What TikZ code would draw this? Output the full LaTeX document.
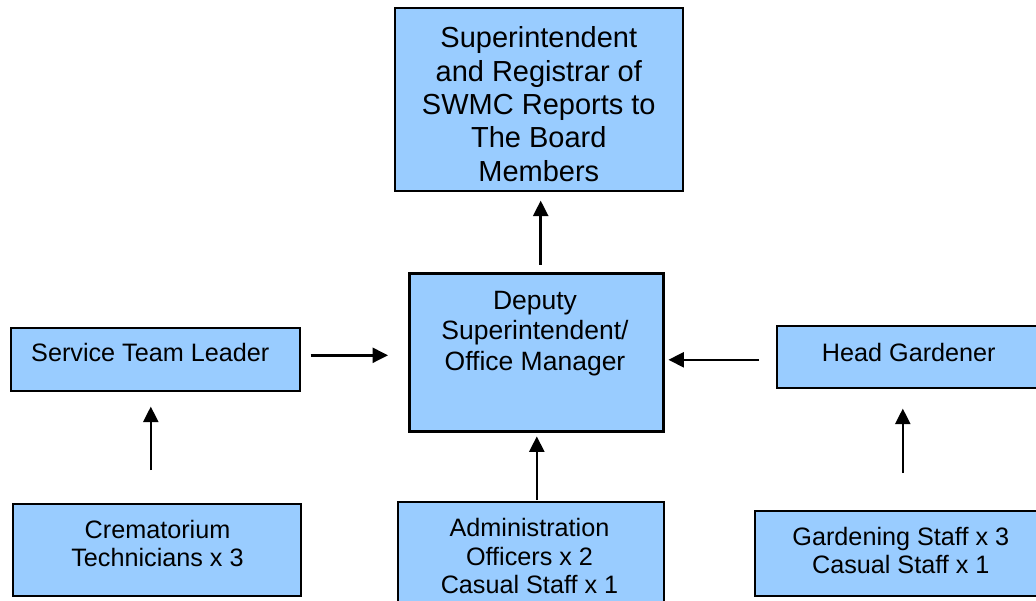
\documentclass[tikz,border=0pt]{standalone}
\usepackage{fontspec}
\setmainfont{Liberation Sans}
\usetikzlibrary{arrows.meta}
\definecolor{boxblue}{RGB}{153,204,255}
\tikzset{
  box/.style={draw=black, fill=boxblue, line width=1.6pt, rectangle, anchor=north west, inner sep=0pt},
  bigbox/.style={box, line width=3.4pt},
  lbl/.style={anchor=north, inner sep=0pt, align=center, font=\fontsize{25.2}{28.5}\selectfont},
  arr/.style={line width=2.5pt, -{Triangle[width=15pt,length=15.5pt]}},
}
\begin{document}
\begin{tikzpicture}[x=1pt,y=-1pt]
\clip (0,0) rectangle (1036,601);
\fill[white] (0,0) rectangle (1036,601);
% boxes
\node[box, minimum width=288pt, minimum height=183pt] (top) at (394,7.5) {};
\node[bigbox, minimum width=254pt, minimum height=158pt] (center) at (408,272) {};
\node[box, minimum width=289pt, minimum height=63pt] (stl) at (10,327) {};
\node[box, minimum width=269pt, minimum height=62pt] (hg) at (776,325) {};
\node[box, minimum width=288pt, minimum height=92pt] (crem) at (12,503) {};
\node[box, minimum width=266pt, minimum height=114pt] (admin) at (397,501) {};
\node[box, minimum width=291pt, minimum height=85pt] (gard) at (754,510) {};
% texts
\node[lbl, font=\fontsize{29}{33.3}\selectfont] (toptxt) at (538.8,26.7) {Superintendent\\and Registrar of\\SWMC Reports to\\The Board\\Members};
\node[lbl, font=\fontsize{26.5}{30.5}\selectfont] (centertxt) at (535,290.7) {Deputy\\Superintendent/\\Office Manager};
\node[lbl] (stltxt) at (150.3,343) {Service Team Leader};
\node[lbl] (hgtxt) at (908.8,343.3) {Head Gardener};
\node[lbl] (cremtxt) at (157.5,520) {Crematorium\\Technicians x 3};
\node[lbl] (admintxt) at (529.5,518.3) {Administration\\Officers x 2\\Casual Staff x 1};
\node[lbl] (gardtxt) at (900.8,526.7) {Gardening Staff x 3\\Casual Staff x 1};
% connectors
\draw[arr, shorten <=7pt, shorten >=8.5pt] ([xshift=4pt]center.north) -- ([xshift=4pt]center.north |- top.south);
\draw[arr, shorten <=10pt, shorten >=20pt] ([yshift=4pt]stl.east) -- ([yshift=4pt]stl.east -| center.west);
\draw[arr, shorten <=17pt, shorten >=3pt] ([yshift=-3pt]hg.west) -- ([yshift=-3pt]hg.west -| center.east);
\draw[arr, shorten <=1pt, shorten >=3pt] ([xshift=6pt]admin.north) -- ([xshift=6pt]admin.north |- center.south);
\draw[arr, shorten <=33pt, shorten >=15pt] ([xshift=-6pt]crem.north) -- ([xshift=-6pt]crem.north |- stl.south);
\draw[arr, shorten <=37pt, shorten >=20pt] ([xshift=2.5pt]gard.north) -- ([xshift=2.5pt]gard.north |- hg.south);
\end{tikzpicture}
\end{document}
